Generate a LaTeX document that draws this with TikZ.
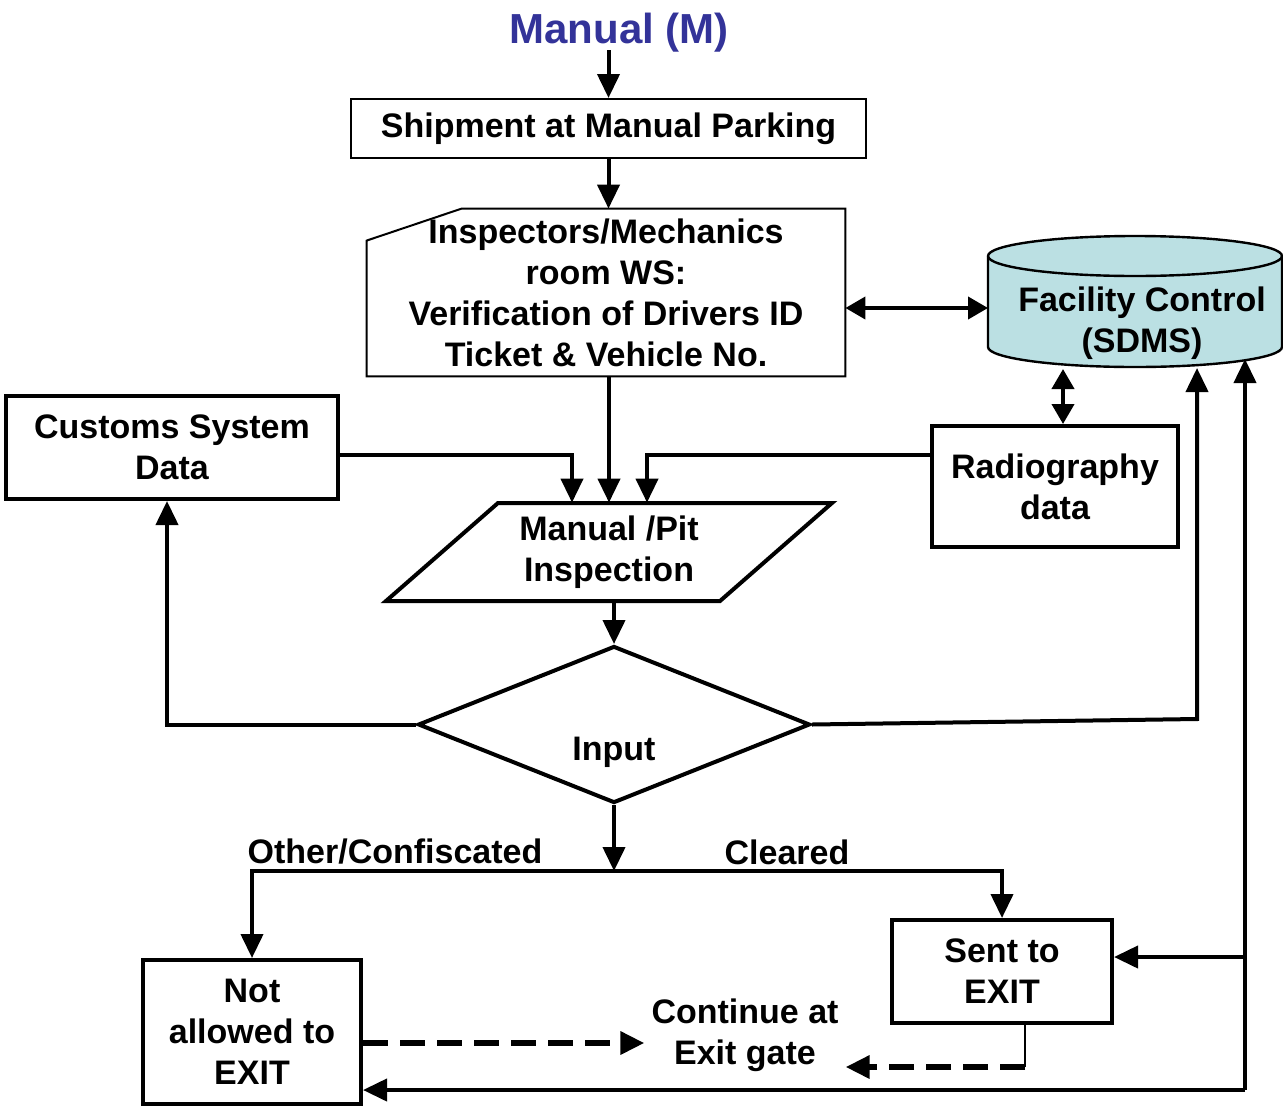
\documentclass[tikz,border=0pt]{standalone}
\usepackage{fontspec}
\setmainfont{Liberation Sans}
\usepackage{tikz}
\usetikzlibrary{arrows.meta,shapes.geometric,calc}
\definecolor{titleblue}{RGB}{51,51,153}
\definecolor{dbfill}{RGB}{187,224,227}
\tikzset{%
    every node/.style={font=\bfseries\fontsize{17}{20.5}\selectfont, align=center},
    title/.style={font=\bfseries\fontsize{21}{25}\selectfont, text=titleblue, inner sep=0pt},
    box/.style={draw, line width=2pt},
    thinbox/.style={draw, line width=1pt},
    decision/.style={diamond, draw, line width=2pt, minimum width=196pt, minimum height=78.5pt, inner sep=0pt},
    arr/.style={-{Triangle[length=12pt,width=11pt]}, line width=2pt},
    dblarr/.style={{Triangle[length=10pt,width=11pt]}-{Triangle[length=10pt,width=11pt]}, line width=2pt},
    dasharr/.style={-{Triangle[length=12pt,width=11pt]}, line width=3pt, dash pattern=on 12.5pt off 6pt}
}
\begin{document}
\begin{tikzpicture}[x=0.5pt,y=-0.5pt]
    \useasboundingbox (0,0) rectangle (1283,1108);
    % database cylinder
    \filldraw[fill=dbfill, line width=1.2pt] (988,256) -- (988,347)
        arc[start angle=180, end angle=360, x radius=73.5pt, y radius=10pt] -- (1282,256)
        arc[start angle=0, end angle=180, x radius=73.5pt, y radius=10pt] -- cycle;
    \draw[line width=1.2pt] (988,256) arc[start angle=180, end angle=360, x radius=73.5pt, y radius=10pt];

    \node[title] (title) at (619,33) {Manual (M)};
    \node[thinbox, minimum width=257.5pt, minimum height=29.5pt] (ship) at (608.5,128.5) {Shipment at Manual Parking};
    \node[minimum width=239pt, minimum height=83.5pt] (ws) at (606,292.5) {Inspectors/Mechanics\\room WS:\\Verification of Drivers ID\\Ticket \& Vehicle No.};
    \draw[line width=1pt] ($(ws.north west)+(0,32)$) -- ($(ws.north west)+(95,0)$) -- (ws.north east) -- (ws.south east) -- (ws.south west) -- cycle;
    \node[] (sdms) at (1142,323) {Facility Control\\(SDMS)};
    \node[box, minimum width=166pt, minimum height=51.5pt] (customs) at (172,447.5) {Customs System\\Data};
    \node[box, minimum width=123pt, minimum height=60.5pt] (rad) at (1055,486.5) {Radiography\\data};
    \node[minimum width=167pt, minimum height=49pt] (pit) at (609,552) {Manual /Pit\\Inspection};
    \draw[line width=2pt] (498,503) -- (832,503) -- (720,601) -- (386,601) -- cycle;
    \node[decision] (inp) at (614,724.5) {};
    \node[] (inptext) at (614,752) {Input};
    \node[] (other) at (395,852) {Other/Confiscated};
    \node[] (clear) at (787,852) {Cleared};
    \node[box, minimum width=109pt, minimum height=72pt] (notok) at (252,1032) {Not\\allowed to\\EXIT};
    \node[box, minimum width=110pt, minimum height=51.5pt] (sent) at (1002,971.5) {Sent to\\EXIT};
    \node[] (cont) at (745,1035.5) {Continue at\\Exit gate};

    \coordinate (split) at (614,871);
    \coordinate (dbW) at (988,308);
    \coordinate (dbR) at (1063,369);
    \coordinate (dbS) at (1197,368);
    \coordinate (dbE) at (1245,359);
    \coordinate (bus) at (1245,1090);
    \coordinate (dturn) at (1025,1067);

    \draw[arr] (619,50 -| ship.north) -- (ship.north);
    \draw[arr] (ship.south) -- (ship.south |- ws.north);
    \draw[dblarr] (ws.east |- dbW) -- (dbW);
    \draw[arr] (ws.south -| pit.north) -- (pit.north);
    \draw[arr] ([yshift=-3.75pt]customs.east) -| ([xshift=-18.5pt]pit.north);
    \draw[arr] ([yshift=15.75pt]rad.west) -| ([xshift=19pt]pit.north);
    \draw[dblarr] ([xshift=4pt]rad.north) -- (dbR);
    \draw[arr] (pit.south -| inp.north) -- (inp.north);
    \draw[arr] (inp.west) -| ([xshift=-2.5pt]customs.south);
    \draw[arr] (inp.east) -- (dbS |- 0,719) -- (dbS);
    \draw[arr] (inp.south) -- (split);
    \draw[arr] (split) -| (notok.north);
    \draw[arr] (split) -| (sent.north);
    \draw[arr] (bus) -- (dbE);
    \draw[arr] (bus |- 0,957) -- (sent.east |- 0,957);
    \draw[arr] (bus) -- (notok.east |- bus);
    \draw[dasharr] (notok.east |- 0,1043) -- (cont.west |- 0,1043);
    \draw[line width=0.8pt] ([xshift=11.5pt]sent.south) -- (dturn);
    \draw[dasharr] (dturn) -- (cont.east |- dturn);
\end{tikzpicture}
\end{document}
